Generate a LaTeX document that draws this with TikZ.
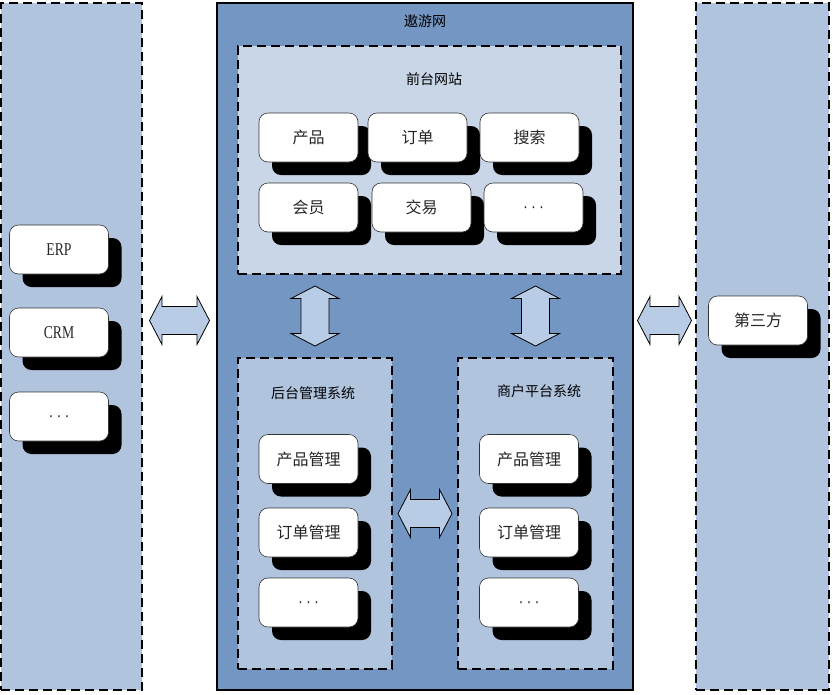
\documentclass[tikz,border=0pt]{standalone}
\usepackage{fontspec}
\newfontfamily\cjk{Noto Sans CJK SC}
\newfontfamily\lat[FakeStretch=0.76]{Liberation Serif}
\usetikzlibrary{calc,shadows}
\definecolor{panelblue}{HTML}{B0C4DE}
\definecolor{mainblue}{HTML}{7496C2}
\definecolor{frontblue}{HTML}{C8D6E7}
\definecolor{arrowblue}{HTML}{B8CDE5}
\tikzset{
  dbox/.style={draw, line width=1.5pt, dash pattern=on 9pt off 5pt, fill=panelblue, inner sep=0pt},
  ttl/.style={font=\cjk\fontsize{14}{16}\selectfont},
  btn/.style={draw=black!80, line width=0.6pt, fill=white, rounded corners=9pt,
    minimum width=99pt, minimum height=49pt, inner sep=0pt,
    font=\cjk\fontsize{16}{18}\selectfont, text=black!85,
    drop shadow={shadow xshift=13pt, shadow yshift=-13pt, fill=black, opacity=1}},
  latbtn/.style={btn, font=\lat\fontsize{18}{20}\selectfont},
  dblarrow/.pic={
    \draw[line width=0.8pt, fill=arrowblue, line join=miter]
      (-#1,0) -- (-#1+12.5,-24) -- (-#1+12.5,-14) -- (#1-12.5,-14) -- (#1-12.5,-24)
      -- (#1,0) -- (#1-12.5,24) -- (#1-12.5,14) -- (-#1+12.5,14) -- (-#1+12.5,24) -- cycle;
  }
}
\begin{document}
\begin{tikzpicture}[x=1pt,y=-1pt]
\useasboundingbox (0,0) rectangle (837,694);
% outer panels
\node[dbox, minimum width=141pt, minimum height=687pt] (box0) at (71.5,346.5){};
\node[draw, line width=1.5pt, fill=mainblue, inner sep=0pt, minimum width=416pt, minimum height=687pt] (box1) at (425,346.5){};
\node[dbox, minimum width=133pt, minimum height=687pt] (box2) at (762.5,346.5){};
% inner boxes
\node[dbox, fill=frontblue, minimum width=383pt, minimum height=228pt] (box3) at (429.5,160){};
\node[dbox, minimum width=154pt, minimum height=311pt] (box4) at (315,513.5){};
\node[dbox, minimum width=155pt, minimum height=311pt] (box5) at (535.5,513.5){};
\node[ttl] (ttl1) at (425,21){遨游网};
\node[ttl] (ttl3) at (434,79){前台网站};
\node[ttl] (ttl4) at (313,393){后台管理系统};
\node[ttl] (ttl5) at (539,391){商户平台系统};
% front site
\node[btn] (fs0) at (308.5,137.5){产品};
\node[btn] (fs1) at (417.5,137.5){订单};
\node[btn] (fs2) at (529.5,137.5){搜索};
\node[btn] (fs3) at (308.5,207.5){会员};
\node[btn] (fs4) at (421.5,207.5){交易};
\node[latbtn] (fs5) at (533.5,207.5){. . .};
% left panel
\node[latbtn] (ext0) at (59,249.5){ERP};
\node[latbtn] (ext1) at (59,332.5){CRM};
\node[latbtn] (ext2) at (59,416.5){. . .};
\node[btn] (ext3) at (758,320.5){第三方};
% back office
\node[btn] (bo0) at (308.5,459){产品管理};
\node[btn] (bo1) at (308.5,532.5){订单管理};
\node[latbtn] (bo2) at (308.5,602.5){. . .};
% merchant platform
\node[btn] (mp0) at (529,459){产品管理};
\node[btn] (mp1) at (529,532.5){订单管理};
\node[latbtn] (mp2) at (529,602.5){. . .};
% arrows
\coordinate (m0) at ($(box0.east)!.5!(box1.west)$);
\coordinate (m1) at ($(box1.east)!.5!(box2.west)$);
\coordinate (m2) at ($(box4.east)!.5!(box5.west)$);
\coordinate (m3) at ($(box3.south -| box4.north)!.5!(box4.north)$);
\coordinate (m4) at ($(box3.south -| box5.north)!.5!(box5.north)$);
\pic at (m0 |- ext3) {dblarrow=30};
\pic at (m1 |- ext3) {dblarrow=27};
\pic at (m2) {dblarrow=27};
\pic[rotate=90] at (m3) {dblarrow=30};
\pic[rotate=90] at (m4) {dblarrow=30};
\end{tikzpicture}
\end{document}
